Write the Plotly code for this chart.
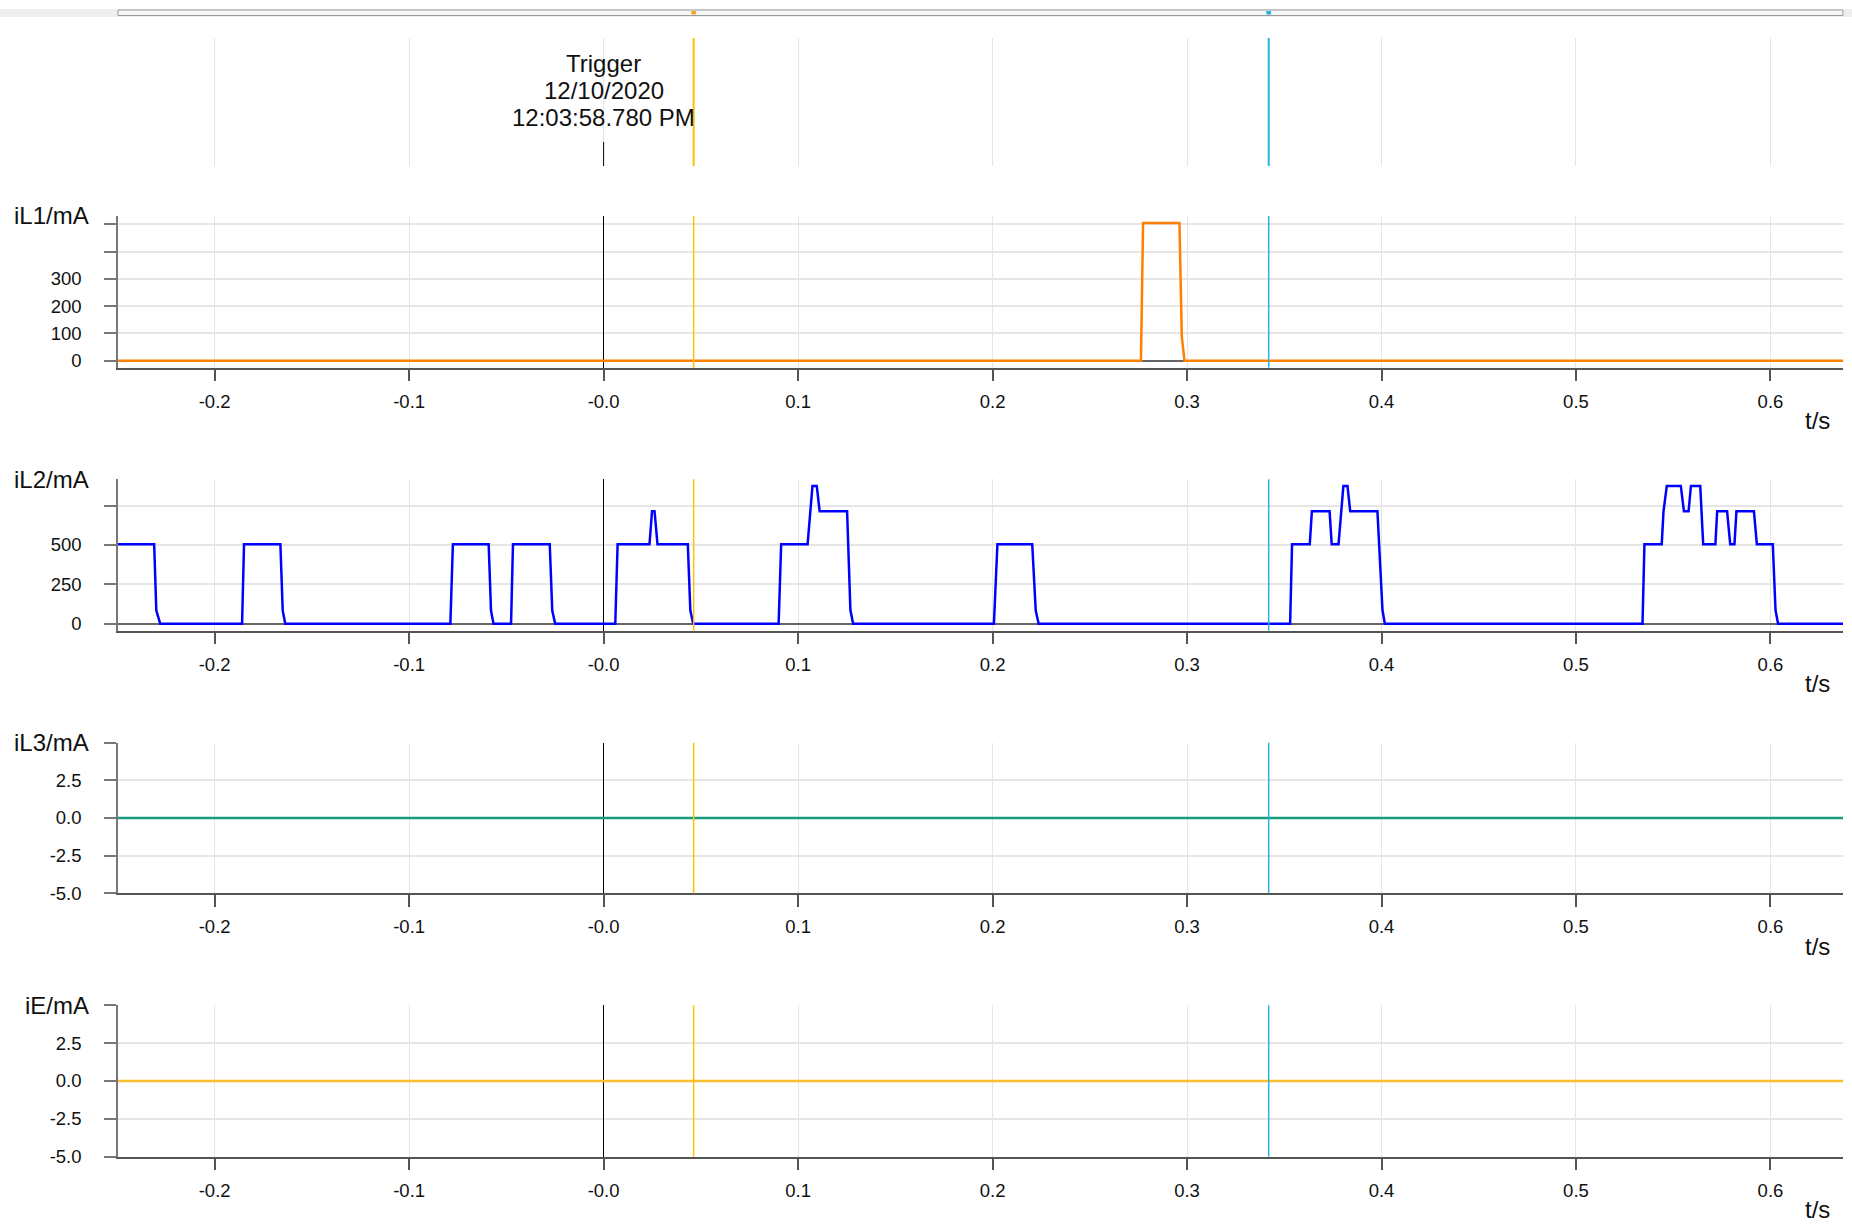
import plotly.graph_objects as go

W, H = 1852, 1226

# ---------------- data ----------------
t_range = [-0.2497, 0.6373]
x_tick_vals = [-0.2, -0.1, 0.0, 0.1, 0.2, 0.3, 0.4, 0.5, 0.6]
x_tick_text = ["-0.2", "-0.1", "-0.0", "0.1", "0.2", "0.3", "0.4", "0.5", "0.6"]

cursor_a_t = 0.0463
cursor_b_t = 0.342

trigger_lines = ["Trigger", "12/10/2020", "12:03:58.780 PM"]

il1_t = [-0.2497, 0.2763, 0.2774, 0.2961, 0.2973, 0.2987, 0.6373]
il1_v = [0, 0, 505, 505, 88, 0, 0]

il2_t = [-0.2497, -0.2311, -0.2300, -0.2280, -0.1859, -0.1849, -0.1662, -0.1650, -0.1637,
         -0.0788, -0.0775, -0.0591, -0.0579, -0.0566, -0.0476, -0.0466, -0.0277, -0.0264,
         -0.0249, 0.0060, 0.0072, 0.0236, 0.0249, 0.0262, 0.0277, 0.0433, 0.0446, 0.0461,
         0.0900, 0.0913, 0.1049, 0.1074, 0.1096, 0.1111, 0.1252, 0.1269, 0.1283,
         0.2007, 0.2025, 0.2204, 0.2222, 0.2237,
         0.3530, 0.3540, 0.3631, 0.3642, 0.3733, 0.3744, 0.3779, 0.3804, 0.3825, 0.3839,
         0.3979, 0.4005, 0.4017,
         0.5342, 0.5352, 0.5441, 0.5450, 0.5467, 0.5539, 0.5555, 0.5579, 0.5591, 0.5639,
         0.5654, 0.5717, 0.5726, 0.5777, 0.5793, 0.5815, 0.5825, 0.5915, 0.5930, 0.6012,
         0.6026, 0.6039, 0.6373]
il2_v = [505, 505, 83, 0, 0, 505, 505, 83, 0,
         0, 505, 505, 83, 0, 0, 505, 505, 83,
         0, 0, 505, 505, 714, 714, 505, 505, 83, 0,
         0, 505, 505, 875, 875, 714, 714, 87, 0,
         0, 505, 505, 83, 0,
         0, 505, 505, 714, 714, 505, 505, 875, 875, 714,
         714, 87, 0,
         0, 505, 505, 714, 875, 875, 714, 714, 875, 875,
         505, 505, 714, 714, 505, 505, 714, 714, 505, 505,
         87, 0, 0]

il3_t = [-0.2497, 0.6373]
il3_v = [0, 0]

ie_t = [-0.2497, 0.6373]
ie_v = [0, 0]

il1_ticks = [0, 100, 200, 300, 400, 500]
il1_ticktext = ["0", "100", "200", "300", "", ""]
il2_ticks = [0, 250, 500, 750]
il2_ticktext = ["0", "250", "500", ""]
small_ticks = [-5, -2.5, 0, 2.5, 5]
small_ticktext = ["-5.0", "-2.5", "0.0", "2.5", ""]

# ---------------- styling ----------------
FONT = "Liberation Sans, Arial, Helvetica, sans-serif"
GRID = "#e6e6e6"
AXIS = "#555555"
ORANGE_CURSOR = "#ffc107"
BLUE_CURSOR = "#29b3e3"
TICK_SIZE = 18.5
TITLE_SIZE = 24

def py(px):
    return 1 - px / H

def pxx(px):
    return px / W

X0_PX, X1_PX = 118, 1843

panels = [
    dict(title="iL1/mA", t=il1_t, v=il1_v, color="#ff8000", yrange=[-25.7, 531],
         ticks=il1_ticks, ticktext=il1_ticktext, top=216, bottom=367.7),
    dict(title="iL2/mA", t=il2_t, v=il2_v, color="#0000ff", yrange=[-44.5, 917],
         ticks=il2_ticks, ticktext=il2_ticktext, top=479.3, bottom=630.7),
    dict(title="iL3/mA", t=il3_t, v=il3_v, color="#169b80", yrange=[-5, 5],
         ticks=small_ticks, ticktext=small_ticktext, top=742.7, bottom=893.3),
    dict(title="iE/mA", t=ie_t, v=ie_v, color="#fbc02d", yrange=[-5, 5],
         ticks=small_ticks, ticktext=small_ticktext, top=1005.3, bottom=1156.7),
]

fig = go.Figure()
layout = dict(
    width=W, height=H, margin=dict(l=0, r=0, t=0, b=0),
    paper_bgcolor="white", plot_bgcolor="white",
    showlegend=False, font=dict(family=FONT, color="#111111"),
)

# trigger panel (axis 1)
TRIG_TOP, TRIG_BOT = 38, 166
layout["xaxis"] = dict(domain=[pxx(X0_PX), pxx(X1_PX)], range=t_range, anchor="y",
                       tickvals=x_tick_vals, showticklabels=False, showgrid=True,
                       gridcolor=GRID, gridwidth=1, zeroline=False, showline=False, ticks="")
layout["yaxis"] = dict(domain=[py(TRIG_BOT), py(TRIG_TOP)], range=[0, 1], anchor="x",
                       visible=False, fixedrange=True)
fig.add_trace(go.Scatter(x=[t_range[0], t_range[1]], y=[None, None], xaxis="x", yaxis="y",
                         mode="lines", hoverinfo="skip"))

shapes = []
annotations = []

for cx, col in [(cursor_a_t, ORANGE_CURSOR), (cursor_b_t, BLUE_CURSOR)]:
    shapes.append(dict(type="line", xref="x", yref="y domain", x0=cx, x1=cx, y0=0, y1=1,
                       line=dict(color=col, width=2)))
shapes.append(dict(type="line", xref="x", yref="paper", x0=0, x1=0, y0=py(166), y1=py(142),
                   line=dict(color="black", width=1)))
for k, line_text in enumerate(trigger_lines):
    annotations.append(dict(xref="x", yref="paper", x=0, y=py(64 + 26.8 * k), text=line_text,
                            showarrow=False, xanchor="center", yanchor="middle",
                            font=dict(size=TITLE_SIZE, family=FONT, color="#111111")))

for i, p in enumerate(panels, start=2):
    xa = f"xaxis{i}"
    ya = f"yaxis{i}"
    layout[xa] = dict(domain=[pxx(X0_PX), pxx(X1_PX)], range=t_range, anchor=f"y{i}",
                      tickvals=x_tick_vals, ticktext=x_tick_text, showgrid=True, gridcolor=GRID,
                      gridwidth=1, zeroline=True, zerolinecolor="black", zerolinewidth=1,
                      showline=True, linecolor=AXIS, linewidth=1.5, ticks="outside",
                      ticklen=12, tickcolor=AXIS, tickwidth=1.5, ticklabelstandoff=4,
                      automargin=False,
                      tickfont=dict(size=TICK_SIZE, family=FONT, color="#111111"))
    layout[ya] = dict(domain=[py(p["bottom"]), py(p["top"])], range=p["yrange"],
                      anchor=f"x{i}", tickvals=p["ticks"], ticktext=p["ticktext"],
                      showgrid=True, gridcolor=GRID, gridwidth=1.5, zeroline=True,
                      zerolinecolor="#666666", zerolinewidth=2, showline=True,
                      linecolor="#777777", linewidth=1.5, ticks="outside", ticklen=12,
                      tickcolor="#777777", tickwidth=1.5, ticklabelstandoff=19,
                      automargin=False,
                      tickfont=dict(size=TICK_SIZE, family=FONT, color="#111111"))
    fig.add_trace(go.Scatter(x=p["t"], y=p["v"], xaxis=f"x{i}", yaxis=f"y{i}", mode="lines",
                             line=dict(color=p["color"], width=2.5, shape="linear"),
                             hoverinfo="x+y"))
    for cx, col in [(cursor_a_t, ORANGE_CURSOR), (cursor_b_t, BLUE_CURSOR)]:
        shapes.append(dict(type="line", xref=f"x{i}", yref=f"y{i} domain", x0=cx, x1=cx,
                           y0=0, y1=1, line=dict(color=col, width=1.5)))
    annotations.append(dict(xref="paper", yref="paper", x=pxx(91), y=py(p["top"]),
                            text=p["title"], showarrow=False, xanchor="right",
                            yanchor="middle", font=dict(size=TITLE_SIZE, family=FONT,
                                                        color="#111111")))
    annotations.append(dict(xref="paper", yref="paper", x=pxx(1817), y=py(p["bottom"] + 53),
                            text="t/s", showarrow=False, xanchor="center", yanchor="middle",
                            font=dict(size=TITLE_SIZE, family=FONT, color="#111111")))

# overview / scroll strip at the very top
shapes.append(dict(type="rect", xref="paper", yref="paper", x0=0, x1=1, y0=py(17), y1=py(9),
                   fillcolor="#efefef", line=dict(width=0), layer="below"))
shapes.append(dict(type="rect", xref="paper", yref="paper", x0=pxx(X0_PX), x1=pxx(X1_PX),
                   y0=py(15.5), y1=py(10), fillcolor="#f7f7f7",
                   line=dict(color="#9a9a9a", width=1)))
for cx, col in [(cursor_a_t, "#f5a623"), (cursor_b_t, BLUE_CURSOR)]:
    shapes.append(dict(type="rect", xref="x", yref="paper", x0=cx - 0.0012, x1=cx + 0.0012,
                       y0=py(14.5), y1=py(11), fillcolor=col, line=dict(width=0)))

layout["shapes"] = shapes
layout["annotations"] = annotations
fig.update_layout(**layout)

post = (
    "var d=document.documentElement, b=document.body;"
    "d.style.margin='0'; b.style.margin='0'; d.style.padding='0'; b.style.padding='0';"
    "d.style.overflow='hidden'; b.style.overflow='hidden';"
    "var gd=document.getElementById('{plot_id}');"
    "gd.style.position='fixed'; gd.style.left='0px'; gd.style.top='0px';"
)
fig.write_html("out.html", config={"displayModeBar": False}, post_script=post)
